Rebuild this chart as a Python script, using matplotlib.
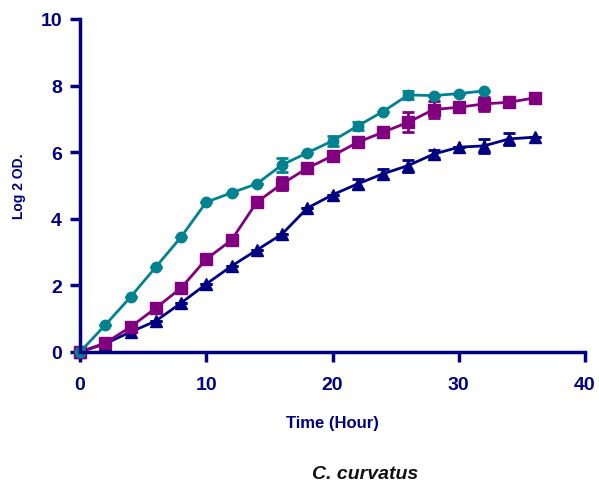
import matplotlib
matplotlib.use("Agg")
import matplotlib.pyplot as plt
import numpy as np

plt.rcParams["font.family"] = ["Liberation Sans", "DejaVu Sans"]

NAVY = "#000080"
PURPLE = "#800080"
TEAL = "#008290"

hours_teal = np.arange(0, 33, 2)
teal = [0, 0.81, 1.65, 2.55, 3.45, 4.5, 4.78, 5.05, 5.62, 5.98, 6.34, 6.79, 7.22, 7.72, 7.7, 7.76, 7.84]
teal_err = [0, 0, 0, 0, 0, 0, 0, 0, 0.2, 0, 0.15, 0.12, 0, 0.12, 0, 0, 0]

hours_purple = np.arange(0, 37, 2)
purple = [0, 0.27, 0.75, 1.32, 1.92, 2.79, 3.36, 4.5, 5.05, 5.52, 5.89, 6.3, 6.6, 6.9, 7.28, 7.35, 7.45, 7.5, 7.63]
purple_err = [0, 0, 0, 0, 0, 0, 0, 0, 0.2, 0, 0, 0, 0, 0.3, 0.25, 0, 0.2, 0, 0]

hours_navy = np.arange(0, 37, 2)
navy = [0, 0.25, 0.6, 0.93, 1.47, 2.04, 2.58, 3.06, 3.54, 4.32, 4.72, 5.05, 5.35, 5.6, 5.94, 6.15, 6.19, 6.4, 6.45]
navy_err = [0, 0, 0, 0, 0, 0, 0, 0, 0, 0, 0, 0.15, 0.15, 0.18, 0.12, 0, 0.22, 0.17, 0]

fig = plt.figure(figsize=(5.99, 4.85), dpi=100)
ax = fig.add_axes([80 / 599, 1 - 353 / 485, 505 / 599, 333 / 485])

common = dict(linewidth=2.0, capsize=4, capthick=2, elinewidth=2, clip_on=False)
ax.errorbar(hours_navy, navy, yerr=navy_err, color=NAVY, marker="^", markersize=8, **common)
ax.errorbar(hours_purple, purple, yerr=purple_err, color=PURPLE, marker="s", markersize=8, **common)
ax.errorbar(hours_teal, teal, yerr=teal_err, color=TEAL, marker="o", markersize=7.5, **common)

ax.set_xlim(0, 40)
ax.set_ylim(0, 10)
ax.set_xticks([0, 10, 20, 30, 40])
ax.set_yticks([0, 2, 4, 6, 8, 10])
ax.spines["top"].set_visible(False)
ax.spines["right"].set_visible(False)
for side in ("left", "bottom"):
    ax.spines[side].set_color(NAVY)
    ax.spines[side].set_linewidth(2.5)
ax.tick_params(colors=NAVY, width=2.5, length=7, labelsize=14, direction="out")
ax.tick_params(axis="x", pad=10)
ax.tick_params(axis="y", pad=6)
for lbl in ax.get_xticklabels() + ax.get_yticklabels():
    lbl.set_fontweight("bold")

ax.set_xlabel("Time (Hour)", fontsize=12, fontweight="bold", color=NAVY, labelpad=16)
ax.set_ylabel("Log 2 OD.", fontsize=10, fontweight="bold", color=NAVY, labelpad=10)
fig.text(365 / 599, 1 - 475 / 485, "C. curvatus", fontsize=14, fontweight="bold",
         fontstyle="italic", color="#111111", ha="center", va="center")

fig.savefig("out.png", dpi=100)
